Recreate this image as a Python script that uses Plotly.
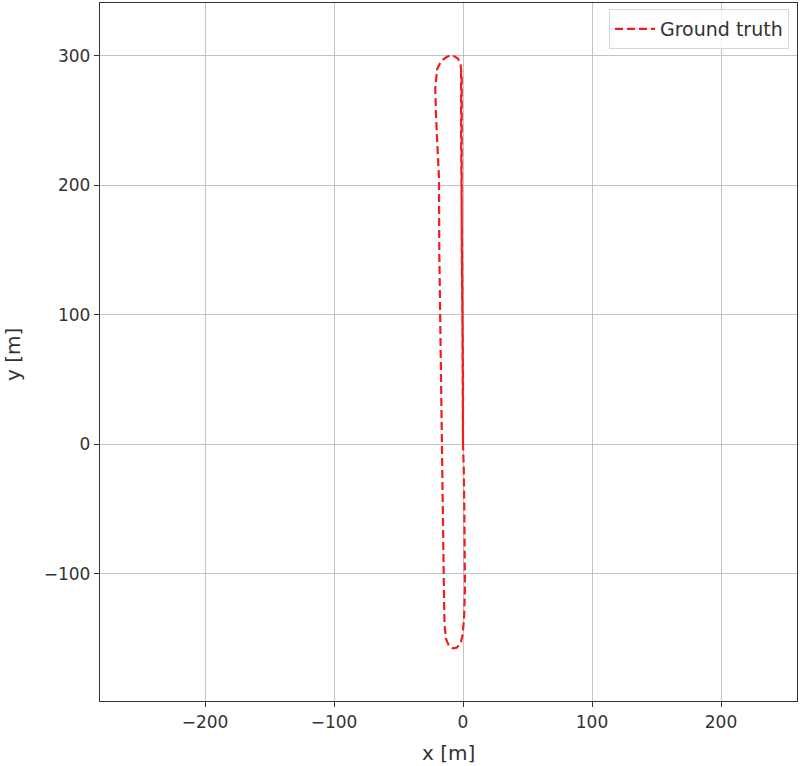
import plotly.graph_objects as go

# ground-truth trajectory read off the picture (metres)
# the path starts at the origin, runs north, loops back south on the west side,
# turns round and drives north again over the first stretch
gt_x = [0.0, 0.0, -0.5, -1.0, -1.0, -1.5, -1.5, -1.0, -2.0, -4.0, -8.0, -10.0, -13.0,
        -17.0, -20.0, -21.5, -21.0, -19.5, -18.6, -18.4, -17.8, -17.3, -16.5, -16.0,
        -15.6, -15.2, -14.7, -14.3, -13.2, -11.0, -8.0, -5.0, -2.0, -0.5, 0.8, 1.5,
        1.5, 1.0, 0.6, 0.0, 0.0, -0.5, -1.0, -1.0, -1.5, -1.5, -1.5]
gt_y = [0.0, 50.0, 100.0, 150.0, 200.0, 240.0, 270.0, 285.0, 294.0, 298.0, 300.5, 300.5,
        299.0, 296.0, 290.0, 275.0, 255.0, 225.0, 205.0, 150.0, 100.0, 60.0, 20.0, -20.0,
        -60.0, -90.0, -120.0, -140.0, -150.0, -155.5, -157.5, -157.0, -154.0, -148.0,
        -135.0, -110.0, -80.0, -50.0, -20.0, 0.0, 50.0, 100.0, 150.0, 200.0, 240.0,
        270.0, 290.0]

x_ticks = [-200, -100, 0, 100, 200]
y_ticks = [-100, 0, 100, 200, 300]

fig = go.Figure()

fig.add_trace(go.Scatter(
    x=gt_x,
    y=gt_y,
    mode="lines",
    name="Ground truth",
    line=dict(color="#f21d1d", width=2.2, dash="8px,4px"),
))

axis_style = dict(
    showgrid=True,
    gridcolor="#c4c4c4",
    gridwidth=1,
    zeroline=False,
    showline=True,
    linecolor="#333333",
    linewidth=1.3,
    mirror=True,
    ticks="outside",
    ticklen=5,
    tickcolor="#333333",
    tickfont=dict(family="DejaVu Sans", size=17, color="#333333"),
    automargin=False,
)

fig.update_xaxes(
    axis_style,
    range=[-281.4, 258.9],
    tickvals=x_ticks,
    ticktext=["\u2212200", "\u2212100", "0", "100", "200"],
)
fig.update_yaxes(
    axis_style,
    range=[-198.2, 340.9],
    tickvals=y_ticks,
    ticktext=["\u2212100", "0", "100", "200", "300"],
)

# axis titles as annotations so they sit where the reference has them
title_font = dict(family="DejaVu Sans", size=20, color="#333333")
fig.add_annotation(text="x [m]", xref="paper", yref="paper", x=0.5, y=0,
                   xanchor="center", yanchor="middle", yshift=-52,
                   showarrow=False, font=title_font)
fig.add_annotation(text="y [m]", xref="paper", yref="paper", x=0, y=0.5,
                   xanchor="center", yanchor="middle", xshift=-87, yshift=-3,
                   textangle=-90, showarrow=False, font=title_font)

fig.update_layout(
    width=800,
    height=766,
    margin=dict(l=100, r=3, t=3, b=65),
    plot_bgcolor="white",
    paper_bgcolor="white",
    showlegend=True,
    legend=dict(
        x=0.9885,
        y=0.9915,
        xanchor="right",
        yanchor="top",
        bgcolor="rgba(255,255,255,0.8)",
        bordercolor="#d6d6d6",
        borderwidth=1,
        itemwidth=40,
        font=dict(family="DejaVu Sans", size=19, color="#333333"),
    ),
)

# the page body has a default 8px margin, drop it so the figure fills the window
fig.write_html(
    "out.html",
    config={"displayModeBar": False},
    post_script="document.body.style.margin='0';document.body.style.overflow='hidden';",
)
